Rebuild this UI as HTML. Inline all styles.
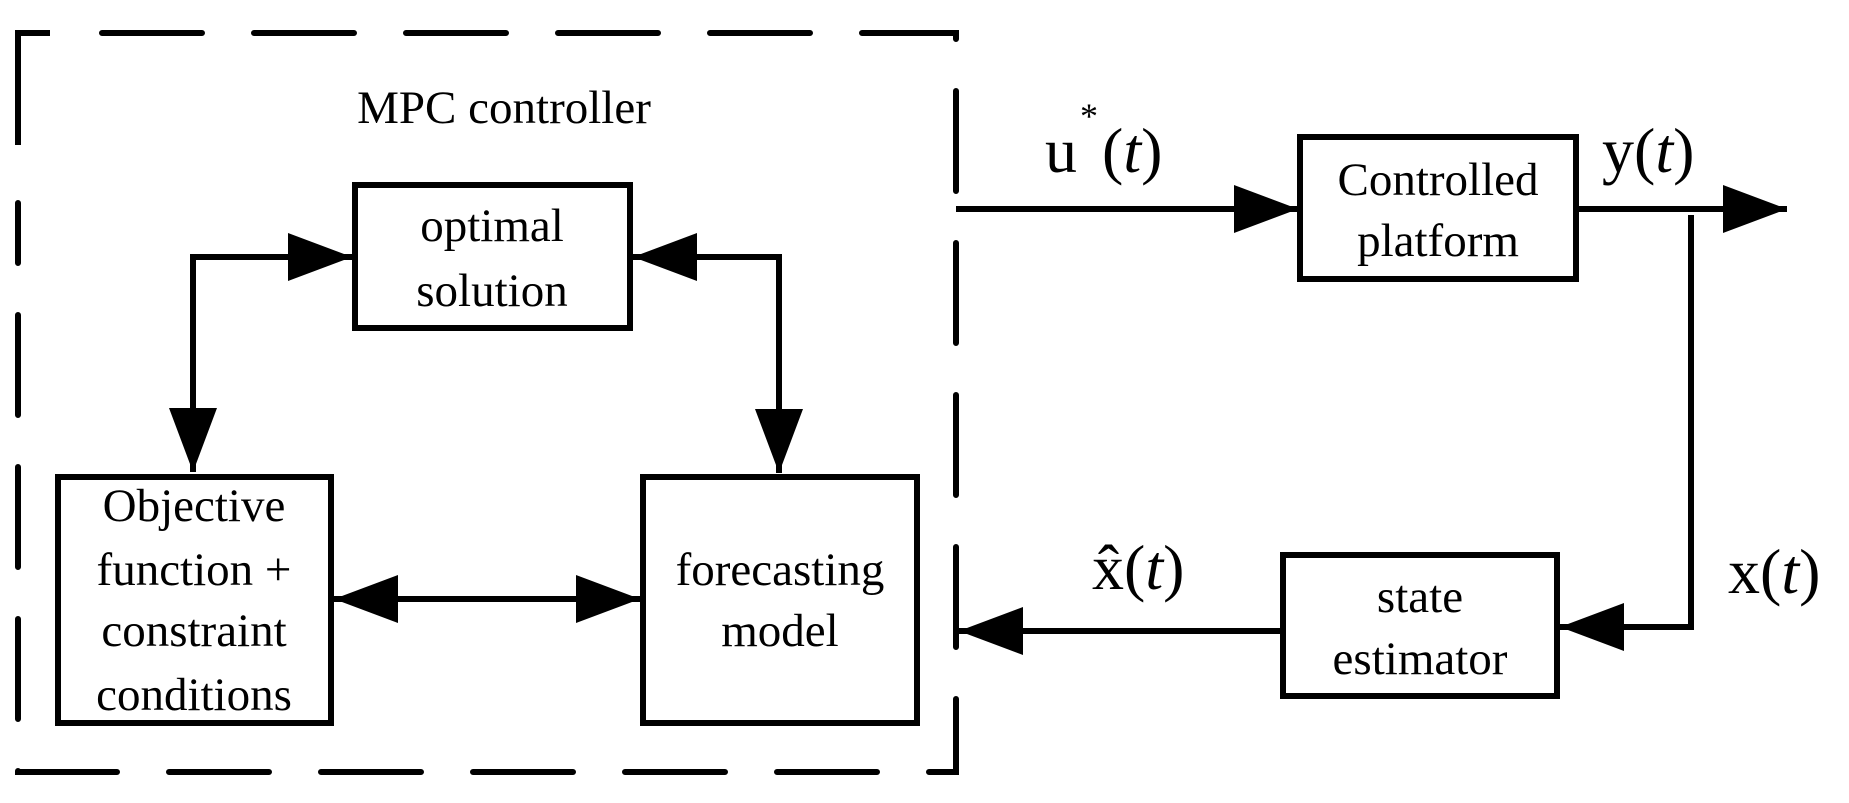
<!DOCTYPE html>
<html><head><meta charset="utf-8"><style>html,body{margin:0;padding:0;background:#fff}svg{display:block}</style></head>
<body>
<svg width="1849" height="803" viewBox="0 0 1849 803" xmlns="http://www.w3.org/2000/svg" font-family="'Liberation Serif', serif" fill="#000">
<defs>
<marker id="a" markerUnits="userSpaceOnUse" markerWidth="66" markerHeight="50" refX="64" refY="24" orient="auto"><path d="M0,0 L64,24 L0,48 Z"/></marker>
<marker id="b" markerUnits="userSpaceOnUse" markerWidth="66" markerHeight="50" refX="64" refY="24" orient="auto-start-reverse"><path d="M0,0 L64,24 L0,48 Z"/></marker>
</defs>
<g stroke="#000" stroke-width="6" fill="none">
<!-- dashed MPC box -->
<path d="M18,145 L18,33 L50,33" />
<path d="M102,33 L956,33 L956,772 L18,772 L18,203" stroke-dasharray="100 52" stroke-linecap="round"/>
<!-- boxes -->
<rect x="355" y="185" width="275" height="143"/>
<rect x="58" y="477" width="273" height="246"/>
<rect x="643" y="477" width="274" height="246"/>
<rect x="1300" y="137" width="276" height="142"/>
<rect x="1283" y="555" width="274" height="141"/>
<!-- connectors -->
<path d="M193,472 L193,257 L352,257" marker-start="url(#b)" marker-end="url(#a)"/>
<path d="M633,257 L779,257 L779,473" marker-start="url(#b)" marker-end="url(#a)"/>
<path d="M334,599 L640,599" marker-start="url(#b)" marker-end="url(#a)"/>
<path d="M956,209 L1298,209" marker-end="url(#a)"/>
<path d="M1576,209 L1787,209" marker-end="url(#a)"/>
<path d="M1691,215 L1691,627 L1560,627" marker-end="url(#a)"/>
<path d="M1283,631 L959,631" marker-end="url(#a)"/>
</g>
<g font-size="47" text-anchor="middle">
<text x="504" y="123">MPC controller</text>
<text x="492" y="241">optimal</text>
<text x="492" y="306">solution</text>
<text x="194" y="521">Objective</text>
<text x="194" y="585">function +</text>
<text x="194" y="646">constraint</text>
<text x="194" y="710">conditions</text>
<text x="780" y="585">forecasting</text>
<text x="780" y="646">model</text>
<text x="1438" y="195">Controlled</text>
<text x="1438" y="256">platform</text>
<text x="1420" y="612">state</text>
<text x="1420" y="674">estimator</text>
</g>
<g font-size="64">
<text x="1045" y="172">u</text>
<text x="1080" y="128" font-size="36">*</text>
<text x="1102" y="172">(<tspan font-style="italic">t</tspan>)</text>
<text x="1602" y="172">y(<tspan font-style="italic">t</tspan>)</text>
<text x="1092" y="589">x̂(<tspan font-style="italic">t</tspan>)</text>
<text x="1728" y="593">x(<tspan font-style="italic">t</tspan>)</text>
</g>
</svg>
</body></html>
